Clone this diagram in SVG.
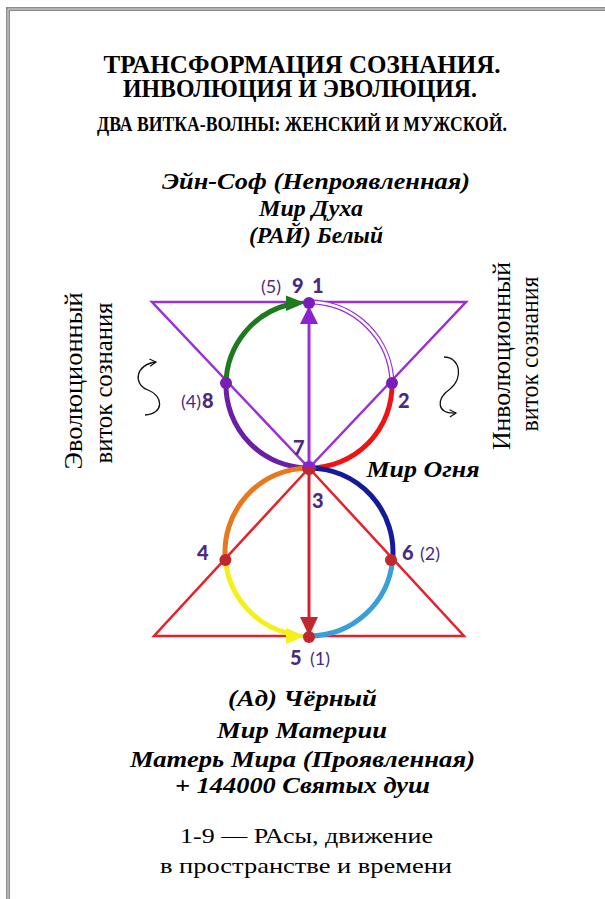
<svg xmlns="http://www.w3.org/2000/svg" width="605" height="899" viewBox="0 0 605 899">
<defs>
<style>
.title{font-weight:bold;fill:#000;text-anchor:middle}
.bi{font-weight:bold;font-style:italic;fill:#000;text-anchor:middle;font-size:23px}
.reg{fill:#000;text-anchor:middle}
.num{font-weight:900;fill:#4b2a80;font-size:20px}
.par{font-weight:normal;fill:#4b2a80;font-size:18px}
.arc{fill:none;stroke-width:5}
.tri{fill:none;stroke-width:2.5;stroke-linejoin:miter}
.curl{fill:none;stroke:#111;stroke-width:1.3}
</style>
<marker id="open" viewBox="0 0 10 10" refX="8" refY="5" markerWidth="9" markerHeight="9" orient="auto-start-reverse" markerUnits="userSpaceOnUse">
<path d="M1,1 L8,5 L1,9" fill="none" stroke="#111" stroke-width="1.3"/>
</marker>
</defs>
<rect width="605" height="899" fill="#fff"/>
<path d="M8 899 V9 H605" fill="none" stroke="#8c8c8c" stroke-width="4"/>
<path d="M8 899 V9 H605" fill="none" stroke="#d8d8d8" stroke-width="1"/>

<g id="title" font-family="Liberation Serif, serif">
<text class="title" x="302" y="73" font-size="26" textLength="397" lengthAdjust="spacingAndGlyphs">ТРАНСФОРМАЦИЯ СОЗНАНИЯ.</text>
<text class="title" x="300" y="97" font-size="26" textLength="354" lengthAdjust="spacingAndGlyphs">ИНВОЛЮЦИЯ И ЭВОЛЮЦИЯ.</text>
<text class="title" x="302" y="131" font-size="21" textLength="410" lengthAdjust="spacingAndGlyphs">ДВА ВИТКА-ВОЛНЫ: ЖЕНСКИЙ И МУЖСКОЙ.</text>
</g>

<g id="top-label" font-family="Liberation Serif, serif">
<text class="bi" x="316" y="189" textLength="308" lengthAdjust="spacingAndGlyphs">Эйн-Соф (Непроявленная)</text>
<text class="bi" x="311" y="216" textLength="104" lengthAdjust="spacingAndGlyphs">Мир Духа</text>
<text class="bi" x="316" y="243" textLength="134" lengthAdjust="spacingAndGlyphs">(РАЙ) Белый</text>
</g>

<g id="side-left" font-family="Liberation Serif, serif">
<text class="reg" font-size="25" transform="translate(82,381) rotate(-90)" textLength="177" lengthAdjust="spacingAndGlyphs">Эволюционный</text>
<text class="reg" font-size="25" transform="translate(112,383) rotate(-90)" textLength="161" lengthAdjust="spacingAndGlyphs">виток сознания</text>
</g>
<g id="side-right" font-family="Liberation Serif, serif">
<text class="reg" font-size="25" transform="translate(510,356) rotate(-90)" textLength="188" lengthAdjust="spacingAndGlyphs">Инволюционный</text>
<text class="reg" font-size="25" transform="translate(538,354) rotate(-90)" textLength="155" lengthAdjust="spacingAndGlyphs">виток сознания</text>
</g>

<g id="connectors">
<path class="curl" d="M156 362 C136 364 132 384 148 390 C164 396 164 414 145 415" marker-start="url(#open)"/>
<path class="curl" d="M444 357 C460 357 464 378 450 389 C436 399 436 414 456 413" marker-end="url(#open)"/>

<path class="tri" stroke="#9a2fd6" d="M152 302 H466 L309 468 Z"/>
<path class="tri" stroke="#e8202a" d="M309 468 L154 636 H464 Z"/>

<path class="arc" stroke="#1e7a1e" d="M226 383 A83 83 0 0 1 289 304.5"/>
<polygon fill="#1e7a1e" points="305,303 286,295.5 286,311"/>
<path class="arc" stroke="#6a1fa6" d="M226 383 A83 83 0 0 0 309 468"/>
<path class="arc" stroke="#9a2fd6" d="M309 302 A83 83 0 0 1 392 383"/>
<path fill="none" stroke="#fff" stroke-width="2.5" d="M312 302 A83 83 0 0 1 392 383"/>
<path class="arc" stroke="#ee1414" d="M392 383 A83 83 0 0 1 309 468"/>

<path class="arc" stroke="#e8771e" d="M309 468 A84 84 0 0 0 225.4 560"/>
<path class="arc" stroke="#f5ef1a" d="M225.4 560 A84 84 0 0 0 289 633.6"/>
<polygon fill="#f5ef1a" points="305,636 286,628 286,644"/>
<path class="arc" stroke="#141b9b" d="M309 468 A84 84 0 0 1 392.6 560"/>
<path class="arc" stroke="#3a9fd8" d="M392.6 560 A84 84 0 0 1 309 636"/>

<line x1="309" y1="468" x2="309" y2="322" stroke="#9a2fd6" stroke-width="3"/>
<polygon fill="#8a22d0" points="309,306 300,324 318,324"/>
<line x1="309" y1="468" x2="309" y2="620" stroke="#d22030" stroke-width="3"/>
<polygon fill="#c0282d" points="309,636 300,617 318,617"/>
</g>

<g id="nodes">
<g id="n91"><circle cx="309" cy="303" r="6" fill="#7a1cb8"/></g>
<g id="n8"><circle cx="226" cy="383" r="6" fill="#7a1cb8"/></g>
<g id="n2"><circle cx="392" cy="383" r="6" fill="#7a1cb8"/></g>
<g id="n73">
<path d="M302 468 A7 7 0 0 1 316 468 Z" fill="#8a22d0"/>
<path d="M302 468 A7 7 0 0 0 316 468 Z" fill="#c0282d"/>
</g>
<g id="n4"><circle cx="225.4" cy="560" r="6" fill="#c0282d"/></g>
<g id="n6"><circle cx="391" cy="560" r="6" fill="#c0282d"/></g>
<g id="n5"><circle cx="309" cy="637" r="6" fill="#c0282d"/></g>
</g>

<g id="labels" font-family="Lato, Open Sans, sans-serif">
<text class="par" x="261" y="293">(5)</text>
<text class="num" x="292" y="293">9</text>
<text class="num" x="312" y="293">1</text>
<text class="par" x="181" y="408">(4)</text>
<text class="num" x="202" y="408">8</text>
<text class="num" x="398" y="408">2</text>
<text class="num" x="293" y="455">7</text>
<text class="num" x="312" y="508">3</text>
<text class="num" x="197" y="560">4</text>
<text class="num" x="402" y="560">6</text>
<text class="par" x="420" y="560">(2)</text>
<text class="num" x="290" y="665">5</text>
<text class="par" x="310" y="665">(1)</text>
</g>

<g id="fire" font-family="Liberation Serif, serif">
<text class="bi" x="423" y="477" font-size="21" textLength="113" lengthAdjust="spacingAndGlyphs">Мир Огня</text>
</g>

<g id="bottom-label" font-family="Liberation Serif, serif">
<text class="bi" x="302.5" y="706" textLength="149" lengthAdjust="spacingAndGlyphs">(Ад) Чёрный</text>
<text class="bi" x="302" y="738" textLength="170" lengthAdjust="spacingAndGlyphs">Мир Материи</text>
<text class="bi" x="302.5" y="767" textLength="345" lengthAdjust="spacingAndGlyphs">Матерь Мира (Проявленная)</text>
<text class="bi" x="302.5" y="793" textLength="255" lengthAdjust="spacingAndGlyphs">+ 144000 Святых душ</text>
<text class="reg" x="306.5" y="843" font-size="22" textLength="253" lengthAdjust="spacingAndGlyphs">1-9 — РАсы, движение</text>
<text class="reg" x="306" y="873" font-size="22" textLength="292" lengthAdjust="spacingAndGlyphs">в пространстве и времени</text>
</g>
</svg>
